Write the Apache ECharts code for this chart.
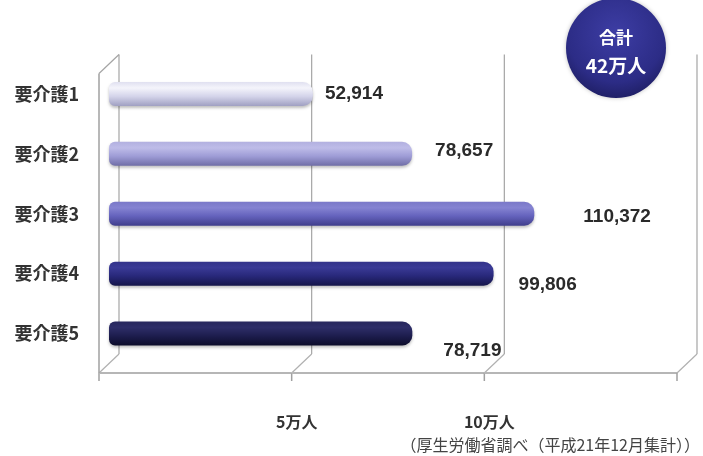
<!DOCTYPE html>
<html>
<head>
<meta charset="utf-8">
<script src="https://cdn.jsdelivr.net/npm/echarts@6/dist/echarts.min.js"></script>
<style>
  html, body { margin: 0; padding: 0; background: #ffffff; }
  #main { width: 703px; height: 456px; }
</style>
</head>
<body>
<div id="main"></div>
<script>
// Applicants by care level
const categories = ['要介護1', '要介護2', '要介護3', '要介護4', '要介護5'];
const applicants = [52914, 78657, 110372, 99806, 78719];
const xTicks = [0, 50000, 100000, 150000];
const xTickLabels = ['', '5万人', '10万人', ''];
const sourceNote = '（厚生労働省調べ（平成21年12月集計））';

// Cylinder shading per bar: top edge, highlight, body, bottom edge
const barShades = [
  ['#e0e0f0', '#f4f4fb', '#d4d4ea', '#a0a0c2'],
  ['#b2b0e0', '#bebce8', '#9e9cd6', '#6f6da6'],
  ['#7a78c8', '#8583d2', '#6462bc', '#403e8c'],
  ['#33338a', '#3a3a96', '#28287a', '#15154a'],
  ['#28285e', '#2e2e68', '#1d1d4e', '#0c0c2a']
];
// Where each value label sits relative to its bar end [dx, dy]
const labelNudge = [[12, 0], [23, -3], [49, 3], [25, 11], [31, 17]];

// Half of the pseudo-3D depth between the front and back planes
const DEPTH_X = 10;
const DEPTH_Y = 9.5;

const FONT_JP = '"Noto Sans CJK JP", "Noto Sans", sans-serif';
const FONT_NUM = '"Liberation Sans", Arial, sans-serif';

const total = applicants.reduce((a, b) => a + b, 0);
const totalText = Math.round(total / 10000) + '万人';

function shade(stops) {
  return {
    type: 'linear', x: 0, y: 0, x2: 0, y2: 1,
    colorStops: [
      { offset: 0, color: stops[0] },
      { offset: 0.25, color: stops[1] },
      { offset: 0.6, color: stops[2] },
      { offset: 1, color: stops[3] }
    ]
  };
}

// Back-wall gridlines, floor edge and depth diagonals, placed from the value axis
function renderFrame(params, api) {
  const i = params.dataIndex;
  const cs = params.coordSys;
  const x = api.coord([api.value(0), 0])[0];
  const top = cs.y, bottom = cs.y + cs.height;
  const bx = x + DEPTH_X, fx = x - DEPTH_X;
  const backTop = top - DEPTH_Y, backBot = bottom - DEPTH_Y;
  const frontTop = top + DEPTH_Y, frontBot = bottom + DEPTH_Y;
  const seg = (x1, y1, x2, y2, stroke, w) => ({
    type: 'line', shape: { x1, y1, x2, y2 }, style: { stroke, lineWidth: w }
  });
  const children = [
    seg(bx, backTop, bx, backBot, '#a4a4a4', 1.2),
    seg(fx, frontBot, bx, backBot, '#b0b0b0', 1.2),
    seg(fx, frontBot, fx, frontBot + 8, '#a0a0a0', 1.5)
  ];
  if (i < xTicks.length - 1) {
    const nx = api.coord([xTicks[i + 1], 0])[0] - DEPTH_X;
    children.push(seg(fx, frontBot, nx, frontBot, '#b6b6b6', 2));
  }
  if (i === 0) {
    children.push(seg(fx, frontTop, fx, frontBot, '#a0a0a0', 1.5));
    children.push(seg(fx, frontTop, bx, backTop, '#a4a4a4', 1.2));
  }
  return { type: 'group', children };
}

const chart = echarts.init(document.getElementById('main'), null, { renderer: 'canvas' });

chart.setOption({
  backgroundColor: '#ffffff',
  animation: false,
  grid: { left: 109, right: 16, top: 64, bottom: 92.5 },
  xAxis: {
    type: 'value',
    min: 0, max: 150000, interval: 50000,
    axisLine: { show: false },
    axisTick: { show: false },
    splitLine: { show: false },
    axisLabel: {
      margin: 50,
      padding: [0, 10, 0, 0],
      fontSize: 16,
      fontWeight: 'bold',
      color: '#333333',
      fontFamily: FONT_JP,
      formatter: v => xTickLabels[xTicks.indexOf(v)] || ''
    }
  },
  yAxis: {
    type: 'category',
    data: categories,
    inverse: true,
    axisLine: { show: false },
    axisTick: { show: false },
    splitLine: { show: false },
    axisLabel: {
      margin: 30,
      padding: [19, 0, 0, 0],
      fontSize: 18,
      fontWeight: 'bold',
      color: '#333333',
      fontFamily: FONT_JP
    }
  },
  series: [
    {
      type: 'custom',
      name: 'frame',
      silent: true,
      z: 1,
      renderItem: renderFrame,
      encode: { x: 0, y: 1 },
      data: xTicks.map(v => [v, 0])
    },
    {
      type: 'bar',
      name: '申込者数',
      z: 3,
      barWidth: 24,
      itemStyle: {
        borderRadius: [6, 10, 10, 6],
        shadowColor: 'rgba(0,0,0,0.25)',
        shadowBlur: 3,
        shadowOffsetY: 2
      },
      label: {
        show: true,
        position: 'right',
        distance: 0,
        fontSize: 19,
        fontWeight: 'bold',
        color: '#2a2a2a',
        fontFamily: FONT_NUM,
        formatter: p => p.value.toLocaleString('en-US')
      },
      data: applicants.map((v, i) => ({
        value: v,
        itemStyle: { color: shade(barShades[i]) },
        label: { offset: labelNudge[i] }
      }))
    }
  ],
  graphic: [
    {
      type: 'group',
      left: 566, top: -2,
      children: [
        {
          type: 'circle',
          shape: { cx: 50, cy: 50, r: 50 },
          style: {
            fill: {
              type: 'radial', x: 0.5, y: 0.35, r: 0.7,
              colorStops: [
                { offset: 0, color: '#3d3da4' },
                { offset: 0.7, color: '#2c2c86' },
                { offset: 1, color: '#1c1c5e' }
              ]
            },
            shadowColor: 'rgba(0,0,0,0.25)',
            shadowBlur: 4
          }
        },
        {
          type: 'text',
          style: {
            x: 50, y: 40, text: '合計',
            align: 'center', verticalAlign: 'middle',
            fill: '#ffffff', fontSize: 17, fontWeight: 'bold', fontFamily: FONT_JP
          }
        },
        {
          type: 'text',
          style: {
            x: 50, y: 68, text: totalText,
            align: 'center', verticalAlign: 'middle',
            fill: '#ffffff', fontSize: 19, fontWeight: 'bold', fontFamily: FONT_JP
          }
        }
      ]
    },
    {
      type: 'text',
      right: 3, top: 437,
      style: {
        text: sourceNote,
        fill: '#444444', fontSize: 16, fontFamily: FONT_JP
      }
    }
  ]
});
</script>
</body>
</html>
